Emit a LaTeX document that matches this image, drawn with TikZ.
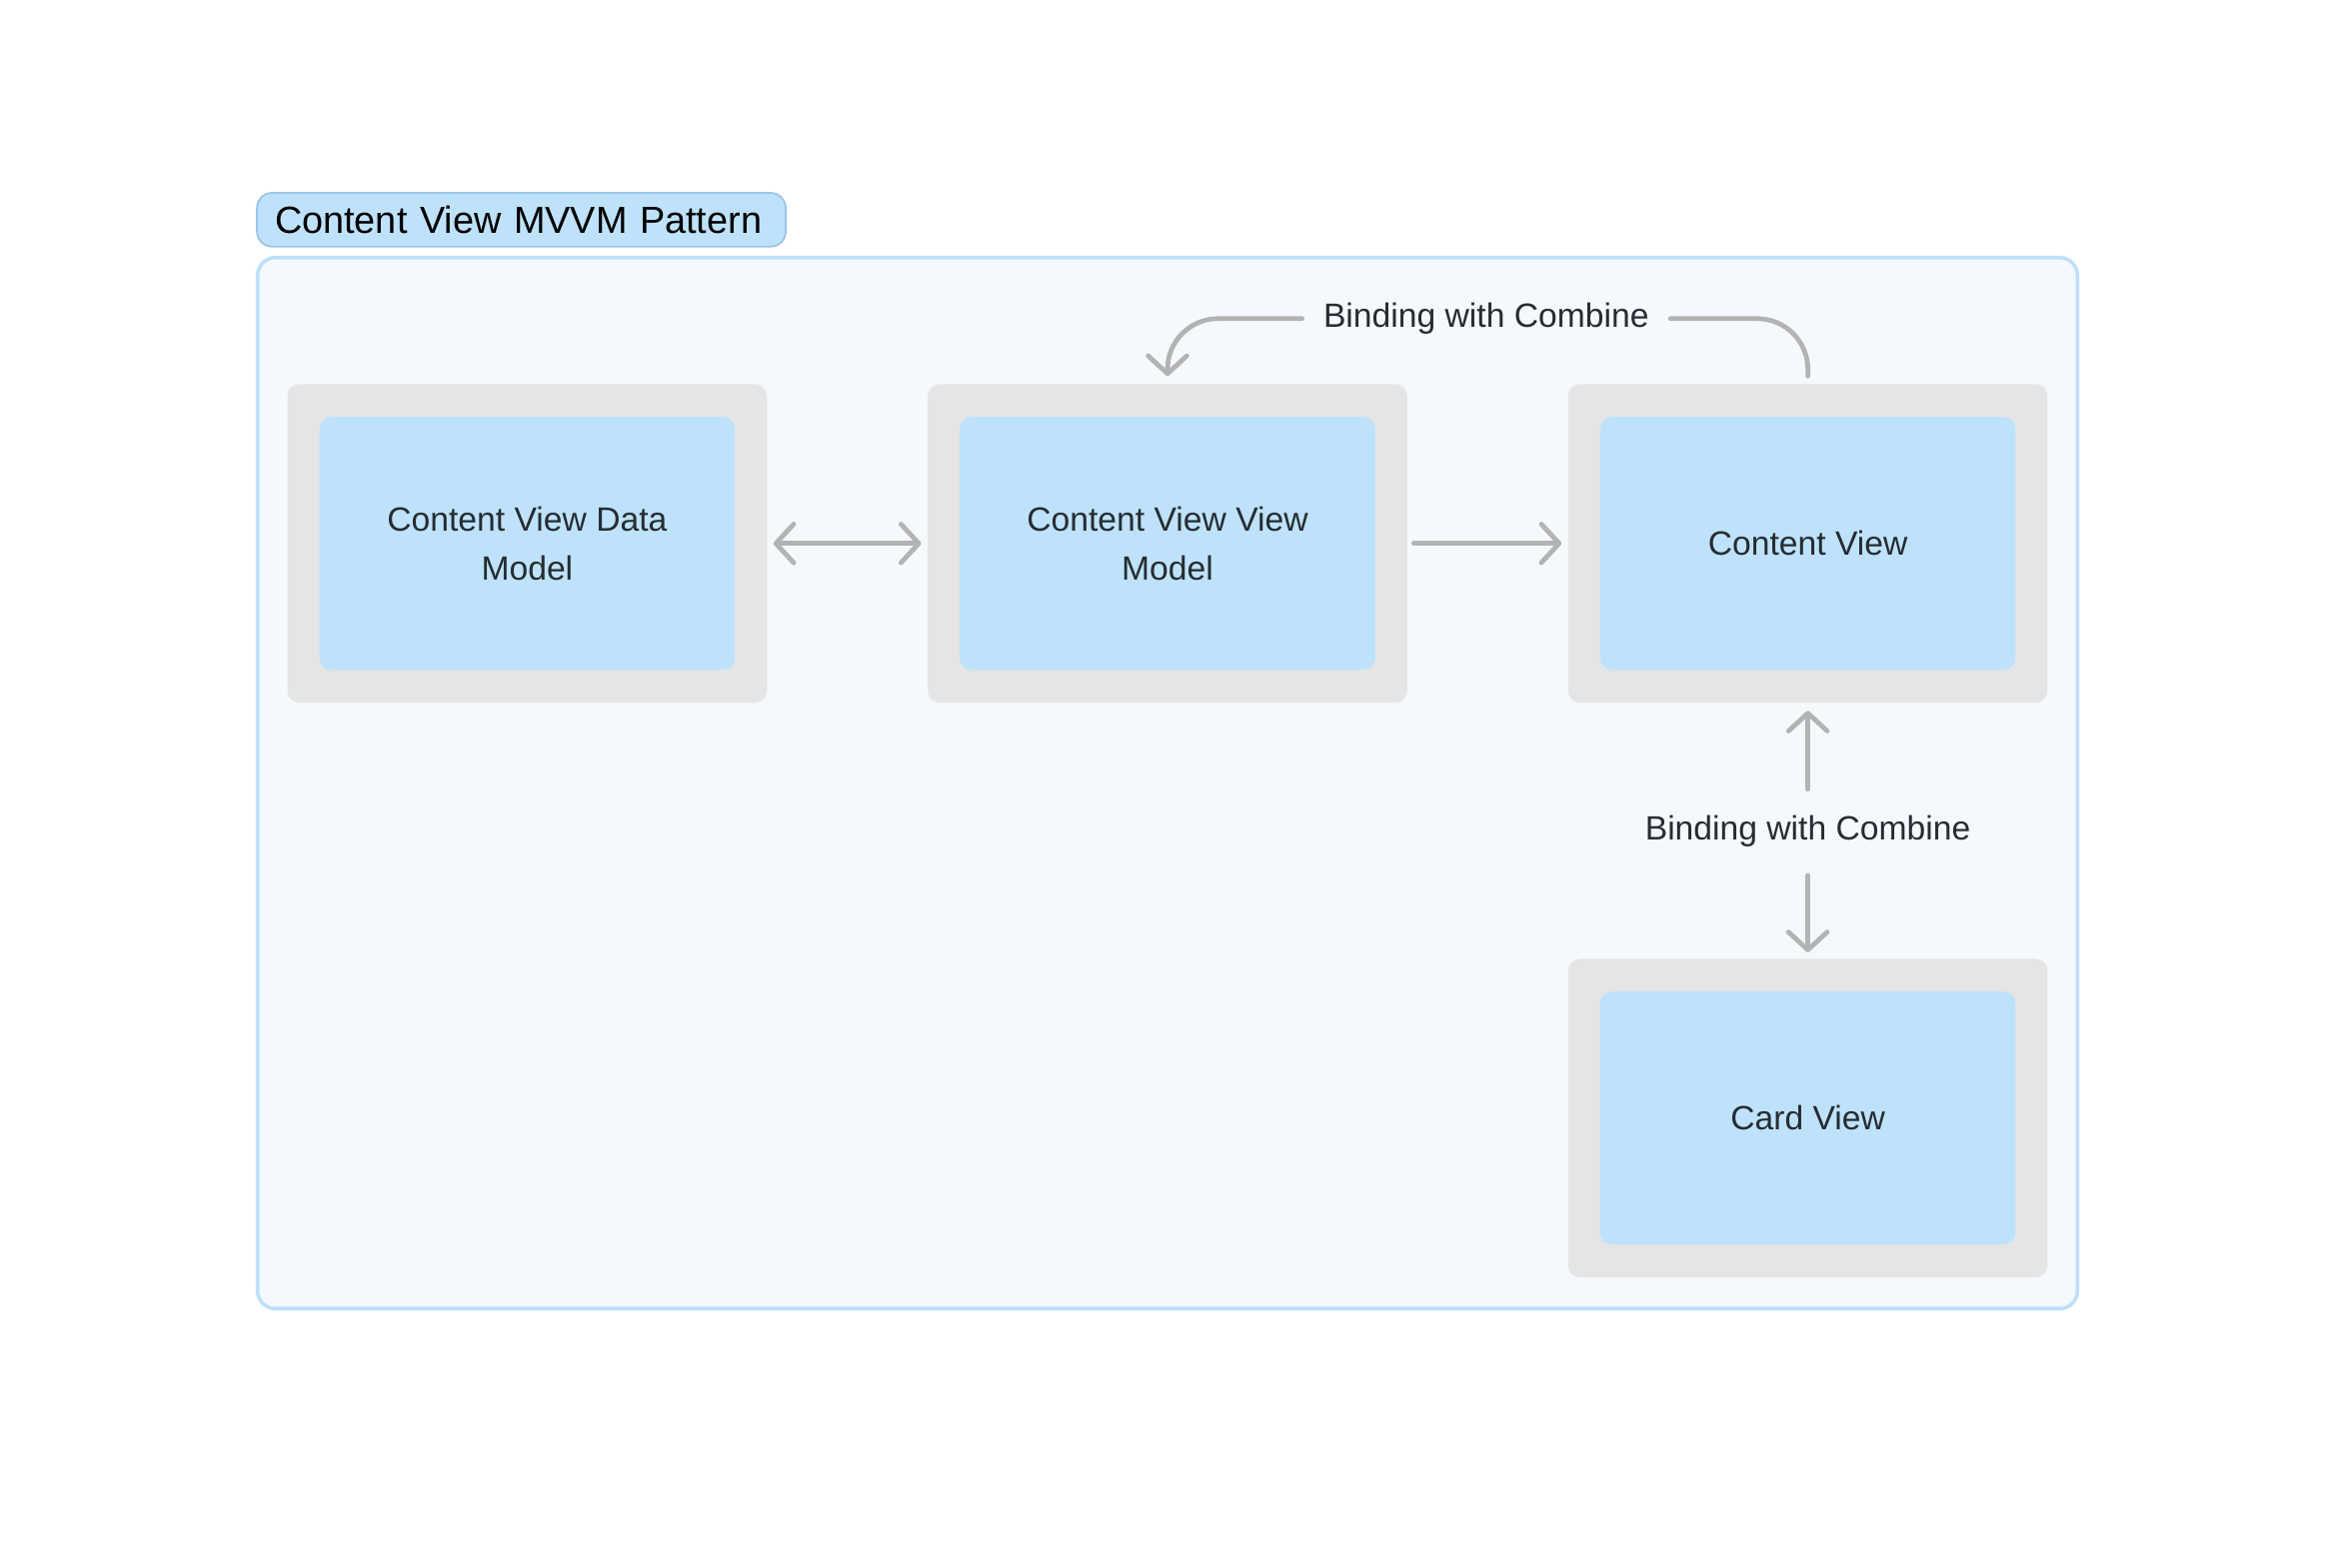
\documentclass[tikz,border=0pt]{standalone}
\usepackage{fontspec}
\setmainfont{Liberation Sans}
\usetikzlibrary{arrows.meta}

\definecolor{paneFill}{HTML}{F5F9FD}
\definecolor{paneEdge}{HTML}{BDE0FA}
\definecolor{tagEdge}{HTML}{9CC5E6}
\definecolor{cellBlue}{HTML}{BEE2FB}
\definecolor{cellGrey}{HTML}{E5E5E5}
\definecolor{linkGrey}{HTML}{B3B3B3}
\definecolor{inkDark}{HTML}{262C32}

\begin{document}
\begin{tikzpicture}[x=0.5pt,y=0.5pt,yscale=-1,xscale=1,
  >={Straight Barb[length=6pt,width=13pt,round]},
  greyFrame/.style={fill=cellGrey, rounded corners=4pt, inner sep=0pt, minimum width=161pt, minimum height=107pt},
  blueCell/.style={fill=cellBlue, rounded corners=4pt, inner sep=0pt, minimum width=139.5pt, minimum height=85pt, align=center, text=inkDark, font=\fontsize{11.3}{16.5}\selectfont},
  lbl/.style={inner xsep=7pt, inner ysep=2pt, text=inkDark, font=\fontsize{11.3}{16.5}\selectfont},
  titleTag/.style={draw=tagEdge, fill=cellBlue, line width=0.6pt, rounded corners=5pt, inner xsep=6pt, inner ysep=0pt, text width=165.5pt, minimum height=18pt, align=left, font=\fontsize{12.7}{15}\selectfont},
  link/.style={draw=linkGrey, line width=1.6pt, line cap=round}]
\useasboundingbox (0,0) rectangle (1568,1052.5);

%Background
\fill[white] (0,0) rectangle (1568,1052.5);
%Rounded Rect (pane)
\draw[draw=paneEdge, fill=paneFill, line width=1.2pt, rounded corners=6pt] (173,173) rectangle (1395,879);

% Title Node
\node[titleTag, anchor=north west] (title) at (172,129) {Content View MVVM Pattern};

% Frames
\node[greyFrame] (dmFrame) at (354,365) {};
\node[greyFrame] (vmFrame) at (784,365) {};
\node[greyFrame] (cvFrame) at (1214,365) {};
\node[greyFrame] (cardFrame) at (1214,751) {};

% Cells
\node[blueCell] (dmCell) at (dmFrame) {Content View Data\\Model};
\node[blueCell] (vmCell) at (vmFrame) {Content View View\\Model};
\node[blueCell] (cvCell) at (cvFrame) {Content View};
\node[blueCell] (cardCell) at (cardFrame) {Card View};

% Text Node
\node[lbl] (topBind) at (998,214) {Binding with Combine};
% Text Node
\node[lbl] (sideBind) at (1214,558) {Binding with Combine};

%Straight Lines
\draw[link, <->, shorten <=2pt, shorten >=2pt] (dmFrame) -- (vmFrame);
\draw[link, ->, shorten <=2pt, shorten >=2pt] (vmFrame) -- (cvFrame);
%Curve Lines
\draw[link, rounded corners=17pt, shorten <=2.5pt] (cvFrame.north) |- (topBind.east);
\draw[link, ->, rounded corners=17pt, shorten >=2.5pt] (topBind.west) -| (vmFrame.north);
%Straight Lines
\draw[link, ->, shorten <=6.5pt, shorten >=2.5pt] (sideBind.north) -- (cvFrame.south);
\draw[link, ->, shorten <=7.5pt, shorten >=2pt] (sideBind.south) -- (cardFrame.north);
\end{tikzpicture}
\end{document}
